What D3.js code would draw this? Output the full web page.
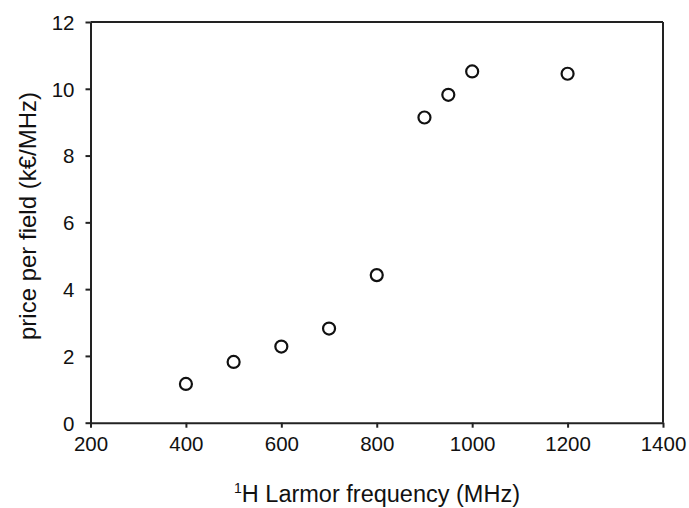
<!DOCTYPE html>
<html><head><meta charset="utf-8">
<script src="https://cdn.jsdelivr.net/npm/d3@7"></script>
<style>body{margin:0;background:#fff}text{font-family:"Liberation Sans",Arial,sans-serif;fill:#111}</style>
</head><body><svg id="c" width="689" height="508"></svg>
<script>
const freqs = [400, 500, 600, 700, 800, 900, 950, 1000, 1200];
const pricePerField = [1.16, 1.82, 2.28, 2.82, 4.42, 9.14, 9.82, 10.52, 10.45];
const xTicks = [200, 400, 600, 800, 1000, 1200, 1400];
const yTicks = [0, 2, 4, 6, 8, 10, 12];

const svg = d3.select("#c");
const L = 90.5, R = 663, T = 22, B = 422.7;
const x = d3.scaleLinear().domain([200, 1400]).range([L, R]);
const y = d3.scaleLinear().domain([0, 12]).range([B, T]);

const gx = svg.append("g").attr("transform", `translate(0,${B})`)
  .call(d3.axisBottom(x).tickValues(xTicks).tickFormat(d3.format("d")).tickSize(5).tickSizeOuter(0).tickPadding(9));
const gy = svg.append("g").attr("transform", `translate(${L},0)`)
  .call(d3.axisLeft(y).tickValues(yTicks).tickFormat(d3.format("d")).tickSize(5).tickSizeOuter(0).tickPadding(11));
[gx, gy].forEach(g => {
  g.attr("font-size", null).attr("font-family", null);
  g.select(".domain").attr("stroke", "#222").attr("stroke-width", 2);
  g.selectAll(".tick line").attr("stroke", "#222").attr("stroke-width", 2);
  g.selectAll(".tick text").style("font-size", "20.5px").attr("fill", "#111");
});
gy.selectAll(".tick text").attr("dy", "0.36em");
// top and right frame
svg.append("line").attr("x1", L).attr("x2", R).attr("y1", T).attr("y2", T).attr("stroke", "#222").attr("stroke-width", 2);
svg.append("line").attr("x1", R).attr("x2", R).attr("y1", T).attr("y2", B).attr("stroke", "#222").attr("stroke-width", 2);

svg.append("g").selectAll("circle").data(freqs).join("circle")
  .attr("cx", (d) => x(d)).attr("cy", (d, i) => y(pricePerField[i]))
  .attr("r", 6).attr("fill", "#fff").attr("stroke", "#111").attr("stroke-width", 2.2);

const xt = svg.append("text").attr("x", 377).attr("y", 502).attr("text-anchor", "middle").style("font-size", "23.5px");
xt.append("tspan").text("1").attr("dy", -9).style("font-size", "14px");
xt.append("tspan").text("H Larmor frequency (MHz)").attr("dy", 9);

svg.append("text").attr("transform", "translate(36,216) rotate(-90)").attr("text-anchor", "middle")
  .style("font-size", "24px").text("price per field (k€/MHz)");
</script></body></html>
